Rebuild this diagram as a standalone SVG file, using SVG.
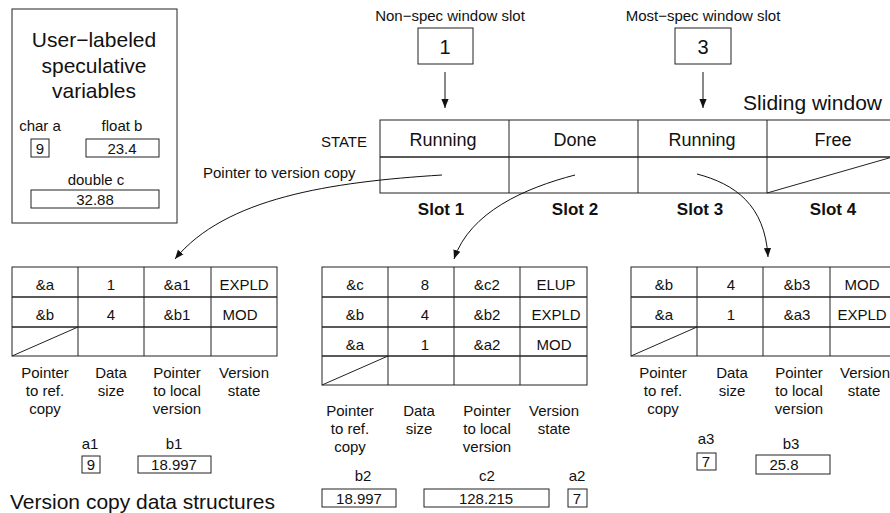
<svg xmlns="http://www.w3.org/2000/svg" width="890" height="513" viewBox="0 0 890 513">
<defs>
<style>
text{font-family:"Liberation Sans",Arial,sans-serif;fill:#111}
.s13{font-size:15px}
.s16{font-size:18px}
.s18{font-size:21px}
.n{font-size:20px}
.b{font-weight:bold;font-size:17px}
.m{text-anchor:middle}
.e{text-anchor:end}
.box{fill:#fff;stroke:#222;stroke-width:1}
.ln{stroke:#222;stroke-width:1;fill:none}
.hl{stroke:#222;stroke-width:1.6;fill:none}
.con{stroke:#111;stroke-width:1;fill:none;marker-end:url(#ah)}
</style>
<marker id="ah" viewBox="0 0 10 10" refX="10" refY="5" markerWidth="9" markerHeight="9" markerUnits="userSpaceOnUse" orient="auto">
<path d="M0,1 L10,5 L0,9 z" fill="#111"/>
</marker>
</defs>
<rect width="890" height="513" fill="#fff"/>

<g id="user-vars">
<rect class="box" x="12" y="9" width="165" height="214"/>
<text class="s18 m" x="94" y="47">User−labeled</text>
<text class="s18 m" x="94" y="73">speculative</text>
<text class="s18 m" x="94" y="98">variables</text>
<text class="s13 m" x="40" y="131">char a</text>
<text class="s13 m" x="122" y="131">float b</text>
<rect class="box" x="31" y="139" width="18" height="18"/>
<text class="s13 m" x="40" y="154">9</text>
<rect class="box" x="86" y="139" width="73" height="18"/>
<text class="s13 m" x="122" y="154">23.4</text>
<text class="s13 m" x="96" y="185">double c</text>
<rect class="box" x="31" y="190" width="128" height="18"/>
<text class="s13 m" x="95" y="205">32.88</text>
</g>

<g id="nonspec-slot">
<text class="s13 m" x="450" y="21">Non−spec window slot</text>
<rect class="box" x="418" y="28" width="55" height="36"/>
<text class="n m" x="445" y="54">1</text>
</g>

<g id="mostspec-slot">
<text class="s13 m" x="703" y="21">Most−spec window slot</text>
<rect class="box" x="675" y="28" width="56" height="36"/>
<text class="n m" x="703" y="54">3</text>
</g>

<g id="sliding-window">
<text class="s18 e" x="882" y="110">Sliding window</text>
<text class="s13 e" x="367" y="147">STATE</text>
<text class="s13" x="203" y="178">Pointer to version copy</text>
<rect class="box" x="380" y="120" width="516" height="73"/>
<line class="hl" x1="380" y1="157" x2="896" y2="157"/>
<line class="ln" x1="509" y1="120" x2="509" y2="193"/>
<line class="ln" x1="638" y1="120" x2="638" y2="193"/>
<line class="ln" x1="767" y1="120" x2="767" y2="193"/>
<line class="ln" x1="767" y1="193" x2="896" y2="156"/>
<text class="s16 m" x="443" y="146">Running</text>
<text class="s16 m" x="575" y="146">Done</text>
<text class="s16 m" x="702" y="146">Running</text>
<text class="s16 m" x="833" y="146">Free</text>
<text class="b m" x="441" y="215">Slot 1</text>
<text class="b m" x="575" y="215">Slot 2</text>
<text class="b m" x="700" y="215">Slot 3</text>
<text class="b m" x="833" y="215">Slot 4</text>
</g>

<g id="vc1">
<rect class="box" x="12" y="267" width="265" height="89"/>
<line class="hl" x1="12" y1="297" x2="277" y2="297"/>
<line class="hl" x1="12" y1="327" x2="277" y2="327"/>
<line class="ln" x1="78" y1="267" x2="78" y2="356"/>
<line class="ln" x1="144" y1="267" x2="144" y2="356"/>
<line class="ln" x1="211" y1="267" x2="211" y2="356"/>
<line class="ln" x1="12" y1="356" x2="78" y2="327"/>
<text class="s13 m" x="45" y="290">&amp;a</text>
<text class="s13 m" x="111" y="290">1</text>
<text class="s13 m" x="177" y="290">&amp;a1</text>
<text class="s13 m" x="244" y="290">EXPLD</text>
<text class="s13 m" x="45" y="320">&amp;b</text>
<text class="s13 m" x="111" y="320">4</text>
<text class="s13 m" x="177" y="320">&amp;b1</text>
<text class="s13 m" x="240" y="320">MOD</text>
<text class="s13 m" x="45" y="378">Pointer</text>
<text class="s13 m" x="45" y="396">to ref.</text>
<text class="s13 m" x="45" y="414">copy</text>
<text class="s13 m" x="111" y="378">Data</text>
<text class="s13 m" x="111" y="396">size</text>
<text class="s13 m" x="177" y="378">Pointer</text>
<text class="s13 m" x="177" y="396">to local</text>
<text class="s13 m" x="177" y="414">version</text>
<text class="s13 m" x="244" y="378">Version</text>
<text class="s13 m" x="244" y="396">state</text>
<text class="s13 m" x="90" y="449">a1</text>
<text class="s13 m" x="174" y="449">b1</text>
<rect class="box" x="82" y="456" width="18" height="17"/>
<text class="s13 m" x="91" y="470">9</text>
<rect class="box" x="138" y="456" width="73" height="17"/>
<text class="s13 m" x="174" y="470">18.997</text>
</g>

<g id="vc2">
<rect class="box" x="322" y="267" width="265" height="118"/>
<line class="hl" x1="322" y1="297" x2="587" y2="297"/>
<line class="hl" x1="322" y1="327" x2="587" y2="327"/>
<line class="hl" x1="322" y1="356" x2="587" y2="356"/>
<line class="ln" x1="388" y1="267" x2="388" y2="385"/>
<line class="ln" x1="454" y1="267" x2="454" y2="385"/>
<line class="ln" x1="520" y1="267" x2="520" y2="385"/>
<line class="ln" x1="322" y1="385" x2="388" y2="356"/>
<text class="s13 m" x="355" y="290">&amp;c</text>
<text class="s13 m" x="425" y="290">8</text>
<text class="s13 m" x="487" y="290">&amp;c2</text>
<text class="s13 m" x="556" y="290">ELUP</text>
<text class="s13 m" x="355" y="320">&amp;b</text>
<text class="s13 m" x="425" y="320">4</text>
<text class="s13 m" x="487" y="320">&amp;b2</text>
<text class="s13 m" x="556" y="320">EXPLD</text>
<text class="s13 m" x="355" y="350">&amp;a</text>
<text class="s13 m" x="425" y="350">1</text>
<text class="s13 m" x="487" y="350">&amp;a2</text>
<text class="s13 m" x="554" y="350">MOD</text>
<text class="s13 m" x="350" y="416">Pointer</text>
<text class="s13 m" x="350" y="434">to ref.</text>
<text class="s13 m" x="350" y="452">copy</text>
<text class="s13 m" x="419" y="416">Data</text>
<text class="s13 m" x="419" y="434">size</text>
<text class="s13 m" x="487" y="416">Pointer</text>
<text class="s13 m" x="487" y="434">to local</text>
<text class="s13 m" x="487" y="452">version</text>
<text class="s13 m" x="554" y="416">Version</text>
<text class="s13 m" x="554" y="434">state</text>
<text class="s13 m" x="363" y="481">b2</text>
<text class="s13 m" x="487" y="481">c2</text>
<text class="s13 m" x="577" y="481">a2</text>
<rect class="box" x="322" y="489" width="74" height="18"/>
<text class="s13 m" x="359" y="504">18.997</text>
<rect class="box" x="424" y="489" width="125" height="18"/>
<text class="s13 m" x="486" y="504">128.215</text>
<rect class="box" x="568" y="489" width="19" height="18"/>
<text class="s13 m" x="577" y="504">7</text>
</g>

<g id="vc3">
<rect class="box" x="631" y="267" width="265" height="89"/>
<line class="hl" x1="631" y1="297" x2="896" y2="297"/>
<line class="hl" x1="631" y1="327" x2="896" y2="327"/>
<line class="ln" x1="697" y1="267" x2="697" y2="356"/>
<line class="ln" x1="763" y1="267" x2="763" y2="356"/>
<line class="ln" x1="830" y1="267" x2="830" y2="356"/>
<line class="ln" x1="631" y1="356" x2="697" y2="327"/>
<text class="s13 m" x="664" y="290">&amp;b</text>
<text class="s13 m" x="731" y="290">4</text>
<text class="s13 m" x="797" y="290">&amp;b3</text>
<text class="s13 m" x="862" y="290">MOD</text>
<text class="s13 m" x="664" y="320">&amp;a</text>
<text class="s13 m" x="731" y="320">1</text>
<text class="s13 m" x="797" y="320">&amp;a3</text>
<text class="s13 m" x="862" y="320">EXPLD</text>
<text class="s13 m" x="663" y="378">Pointer</text>
<text class="s13 m" x="663" y="396">to ref.</text>
<text class="s13 m" x="663" y="414">copy</text>
<text class="s13 m" x="732" y="378">Data</text>
<text class="s13 m" x="732" y="396">size</text>
<text class="s13 m" x="799" y="378">Pointer</text>
<text class="s13 m" x="799" y="396">to local</text>
<text class="s13 m" x="799" y="414">version</text>
<text class="s13 m" x="865" y="378">Version</text>
<text class="s13 m" x="864" y="396">state</text>
<text class="s13 m" x="706" y="444">a3</text>
<text class="s13 m" x="791" y="449">b3</text>
<rect class="box" x="697" y="453" width="19" height="17"/>
<text class="s13 m" x="706" y="467">7</text>
<rect class="box" x="756" y="455" width="74" height="19"/>
<text class="s13 m" x="784" y="470">25.8</text>
</g>

<text class="s18" x="10" y="509">Version copy data structures</text>

<g id="connectors">
<line class="con" x1="445" y1="72" x2="445" y2="108"/>
<line class="con" x1="703" y1="72" x2="703" y2="108"/>
<path class="con" d="M442,175 C330,182 225,198 175,259"/>
<path class="con" d="M575,175 C525,188 470,212 454,259"/>
<path class="con" d="M697,174 C735,184 765,205 768,257"/>
</g>
</svg>
